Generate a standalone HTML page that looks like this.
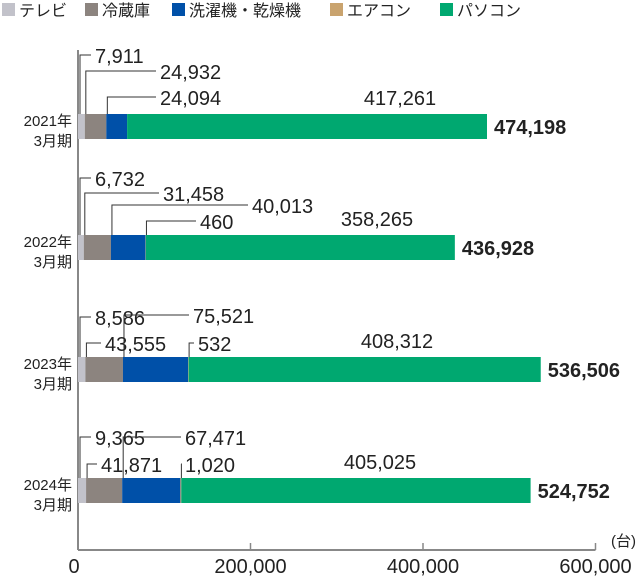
<!DOCTYPE html>
<html><head><meta charset="utf-8"><style>
body{margin:0;background:#fff;}
svg text{font-family:"Liberation Sans","Noto Sans CJK JP",sans-serif;fill:#222;}
</style></head><body>
<svg id="c" width="640" height="578" xmlns="http://www.w3.org/2000/svg"></svg>
<script>
const categories=["2021年|3月期","2022年|3月期","2023年|3月期","2024年|3月期"];
const seriesNames=["テレビ","冷蔵庫","洗濯機・乾燥機","エアコン","パソコン"];
const tv=[7911,6732,8586,9365];
const fridge=[24932,31458,43555,41871];
const washer=[24094,40013,75521,67471];
const aircon=[0,460,532,1020];
const pc=[417261,358265,408312,405025];
const tickLabels=["0","200,000","400,000","600,000"];
const tickValues=[0,200000,400000,600000];
const colors=["#c2c2ca","#8c847f","#0050a8","#c9a36e","#00a870"];
const series=[tv,fridge,washer,aircon,pc];
// layout: label positions for the small callouts [x, y] per category per series (tv, fridge, washer, aircon)
const calloutPos=[
 [[95,56],[160,72],[160,98],null],
 [[95,179],[163,194],[252,206],[200,222]],
 [[95,318],[105,344],[193,316],[198,344]],
 [[95,438],[101,465],[185,438],[185,465]]];
const barTop=[114,235,357,478];
const pcLabelX=[400,377,397,380];
const svg=document.getElementById('c');
const NS="http://www.w3.org/2000/svg";
const x0=78, scale=172.5/200000, base=550;
const X=v=>x0+v*scale;
function el(t,a,txt){const e=document.createElementNS(NS,t);for(const k in a)e.setAttribute(k,a[k]);if(txt!==undefined)e.textContent=txt;svg.appendChild(e);return e;}
const fmt=v=>v.toLocaleString('en-US');
// legend
const legX=[2,85,172,330,440];
seriesNames.forEach((n,i)=>{
 const r=el('rect',{x:legX[i],y:3,width:13,height:13,fill:colors[i]});
 
 
 const t=el('text',{x:legX[i]+17,y:16,'font-size':16},n);
 
 
});
// axes
const ya=el('line',{x1:x0,y1:50,x2:x0,y2:base,stroke:'#888','stroke-width':2});


const xa=el('line',{x1:x0,y1:base,x2:X(600000),y2:base,stroke:'#888','stroke-width':2});


tickValues.forEach((v,i)=>{
 if(i>0){const tk=el('line',{x1:X(v),y1:base-7,x2:X(v),y2:base,stroke:'#888','stroke-width':1.5});
 
 }
 const t=el('text',{x:i==0?x0-4:X(v),y:573,'font-size':20,'text-anchor':'middle'},tickLabels[i]);
 
 
});
const u=el('text',{x:636,y:546,'font-size':15,'text-anchor':'end'},'(台)');


categories.forEach((c,ci)=>{
 const top=barTop[ci],h=25;
 const [l1,l2]=c.split('|');
 const t1=el('text',{x:72,y:top+12,'font-size':15,'text-anchor':'end'},l1);
 
 
 const t2=el('text',{x:72,y:top+32,'font-size':15,'text-anchor':'end'},l2);
 
 
 let acc=0;
 series.forEach((s,si)=>{
  const v=s[ci];const xs=X(acc);acc+=v;const xe=X(acc);
  const r=el('rect',{x:xs,y:top,width:Math.max(0,xe-xs),height:h,fill:colors[si]});
  
  
  if(si<4){
   const p=calloutPos[ci][si]; if(!p) return;
   const lx=si==0?xs+2:xs+1;
   const ly=p[1]-1;
   const ln=el('polyline',{points:`${lx},${top} ${lx},${ly} ${p[0]-4},${ly}`,fill:'none',stroke:'#333','stroke-width':1});
   
   
   const t=el('text',{x:p[0],y:p[1]+7,'font-size':20},fmt(v));
   
   
  } else {
   const t=el('text',{x:pcLabelX[ci],y:top-9,'font-size':20,'text-anchor':'middle'},fmt(v));
   
   
  }
 });
 const tt=el('text',{x:X(acc)+7,y:top+20,'font-size':20,'font-weight':'bold'},fmt(acc));
 
 
});
</script>
</body></html>
